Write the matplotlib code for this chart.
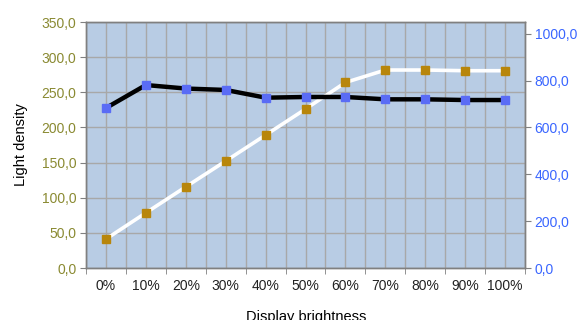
import matplotlib
matplotlib.use("Agg")
import matplotlib.pyplot as plt
from matplotlib.ticker import FuncFormatter, MultipleLocator

plt.rcParams["font.family"] = ["Liberation Sans", "DejaVu Sans"]

# display brightness setting vs measured output
levels = ["0%", "10%", "20%", "30%", "40%", "50%", "60%", "70%", "80%", "90%", "100%"]
luminance = [41.2, 78.5, 115.5, 152.2, 189.2, 226.2, 264.0, 281.7, 281.7, 280.7, 280.7]
contrast = [683, 781, 766, 760, 727, 730, 730, 720, 720, 717, 717]

BG = "#b8cce4"
GRID = "#a8a8a8"
OLIVE = "#8a8a32"
BLUE = "#3a66ff"


def comma_fmt(v, pos):
    return f"{v:.1f}".replace(".", ",")


fig = plt.figure(figsize=(5.8, 3.2), dpi=100)
ax = fig.add_axes([0.1483, 0.1625, 0.7569, 0.7687])
ax2 = ax.twinx()

x = list(range(len(levels)))

ax.set_facecolor(BG)
ax.set_zorder(ax2.get_zorder() - 1)
ax2.patch.set_visible(False)

ax.plot(x, luminance, color="white", lw=2.6, marker="s", ms=5.3,
        mfc="#b8860b", mec="#b8860b", zorder=3)
ax2.plot(x, contrast, color="black", lw=3.2, marker="s", ms=5.3,
         mfc="#5a6cf5", mec="#5a6cf5", zorder=4)

ax.set_xlim(-0.5, 10.5)
ax.set_ylim(0, 350)
ax2.set_ylim(0, 1050)

ax.yaxis.set_major_locator(MultipleLocator(50))
ax.yaxis.set_major_formatter(FuncFormatter(comma_fmt))
ax2.yaxis.set_major_locator(MultipleLocator(200))
ax2.yaxis.set_major_formatter(FuncFormatter(comma_fmt))

ax.set_xticks(x)
ax.set_xticklabels(levels)
ax.xaxis.set_minor_locator(MultipleLocator(0.5))
ax.tick_params(axis="x", which="major", length=0, pad=8, labelsize=10, colors="#222222")
ax.tick_params(axis="x", which="minor", length=4, color="#808080")
ax.tick_params(axis="y", length=4, color="#808080", labelsize=10, labelcolor=OLIVE, pad=3)
ax2.tick_params(axis="y", length=4, color="#808080", labelsize=10, labelcolor=BLUE, pad=3)

ax.grid(True, which="both", axis="x", color=GRID, lw=1)
ax.grid(True, which="major", axis="y", color=GRID, lw=1)

for a in (ax, ax2):
    for s in a.spines.values():
        s.set_color("#808080")
        s.set_linewidth(1)

ax.set_ylabel("Light density", fontsize=10.5, labelpad=10)
fig.text(0.528, 0.008, "Display brightness", ha="center", va="center", fontsize=10.5)

fig.savefig("out.png", dpi=100)
